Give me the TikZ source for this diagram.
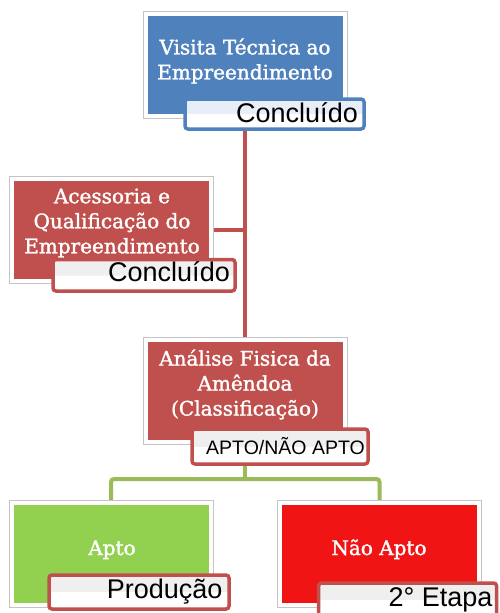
\documentclass[tikz,border=0pt]{standalone}
\usepackage{fontspec}
\newfontfamily\boxfont[FakeBold=1.5]{DejaVu Serif}
\newfontfamily\lblfont{Liberation Sans}
\definecolor{accblue}{HTML}{4F81BD}
\definecolor{accred}{HTML}{C0504D}
\definecolor{accgreen}{HTML}{92D050}
\definecolor{vividred}{HTML}{F11414}
\definecolor{connred}{HTML}{C0504D}
\definecolor{conngreen}{HTML}{9BBB59}
\definecolor{framegray}{HTML}{C4C4C4}
\definecolor{tintblue}{HTML}{E8EEF7}
\definecolor{tintgray}{HTML}{EFEFEF}
\pgfdeclareverticalshading{glossblue}{100bp}{color(0bp)=(white); color(50bp)=(white); color(50.5bp)=(tintblue); color(100bp)=(tintblue)}
\pgfdeclareverticalshading{glossgray}{100bp}{color(0bp)=(white); color(50bp)=(white); color(50.5bp)=(tintgray); color(100bp)=(tintgray)}
\pgfdeclarelayer{connlayer}
\pgfsetlayers{connlayer,main}
\tikzset{
  mainbox/.style={draw=framegray, line width=0.8pt, fill=white,
    minimum width=204pt, minimum height=107pt, inner sep=0pt, outer sep=0pt,
    path picture={\fill[#1] ([shift={(4.5pt,-4.5pt)}]path picture bounding box.north west)
      rectangle ([shift={(-4.5pt,4.5pt)}]path picture bounding box.south east);}},
  tagbox/.style={draw=#1, line width=3.5pt, rounded corners=3pt, inner sep=0pt, outer sep=0pt, shade},
  boxtxt/.style={text=white, font=\boxfont\fontsize{20}{25}\selectfont, align=center, inner sep=0pt},
  tagtxt/.style={text=black, font=\lblfont\fontsize{27}{30}\selectfont, inner sep=0pt, anchor=base east},
  redconn/.style={draw=connred, line width=4pt},
  greenconn/.style={draw=conngreen, line width=4pt, rounded corners=3pt}
}
\begin{document}
\begin{tikzpicture}[x=1pt,y=-1pt]
\useasboundingbox (0,0) rectangle (499,613);
% boxes
\node[mainbox=accblue] (topbox) at (245,65) {};
\node[mainbox=accred] (leftbox) at (111,229.5) {};
\node[mainbox=accred] (midbox) at (245,390.5) {};
\node[mainbox=accgreen] (aptobox) at (111,554) {};
\node[mainbox=vividred] (naobox) at (379.5,554) {};
% tags
\node[tagbox=accblue, shading=glossblue, minimum width=179pt, minimum height=30pt] (toptag) at (274.5,114) {};
\node[tagbox=accred, shading=glossgray, minimum width=182pt, minimum height=31.5pt] (lefttag) at (144,275.25) {};
\node[tagbox=accred, shading=glossgray, minimum width=176pt, minimum height=35pt] (midtag) at (280,446.5) {};
\node[tagbox=accred, shading=glossgray, minimum width=180pt, minimum height=34pt] (prodtag) at (139,592) {};
\node[tagbox=accred, shading=glossgray, minimum width=178pt, minimum height=34pt] (etapatag) at (407.6,600) {};
% connectors (behind)
\coordinate (gj) at (245,479);
\begin{pgfonlayer}{connlayer}
\draw[redconn] (toptag.south -| topbox.south) -- (midbox.north);
\draw[redconn] (leftbox.east) -- (leftbox.east -| topbox.south);
\draw[greenconn] (midtag.south -| midbox.south) -- (gj);
\draw[greenconn] (aptobox.north) |- (gj) -| (naobox.north);
\end{pgfonlayer}
% box texts
\node[boxtxt] (toptxt) at (245,61) {Visita Técnica ao\\Empreendimento};
\node[boxtxt] (lefttxt) at (112,223) {Acessoria e\\Qualificação do\\Empreendimento};
\node[boxtxt] (midtxt) at (245,384.5) {Análise Fisica da\\Amêndoa\\(Classificação)};
\node[boxtxt, anchor=base] (aptotxt) at (112,555) {Apto};
\node[boxtxt, anchor=base] (naotxt) at (379,555) {Não Apto};
% tag texts
\node[tagtxt] (toptagtxt) at (358,122) {Concluído};
\node[tagtxt] (lefttagtxt) at (230,281.7) {Concluído};
\node[tagtxt, font=\lblfont\fontsize{19.5}{22}\selectfont] (midtagtxt) at (365,454) {APTO/NÃO APTO};
\node[tagtxt] (prodtagtxt) at (222.7,598) {Produção};
\node[tagtxt] (etapatagtxt) at (492.7,606.7) {2° Etapa};
\end{tikzpicture}
\end{document}
